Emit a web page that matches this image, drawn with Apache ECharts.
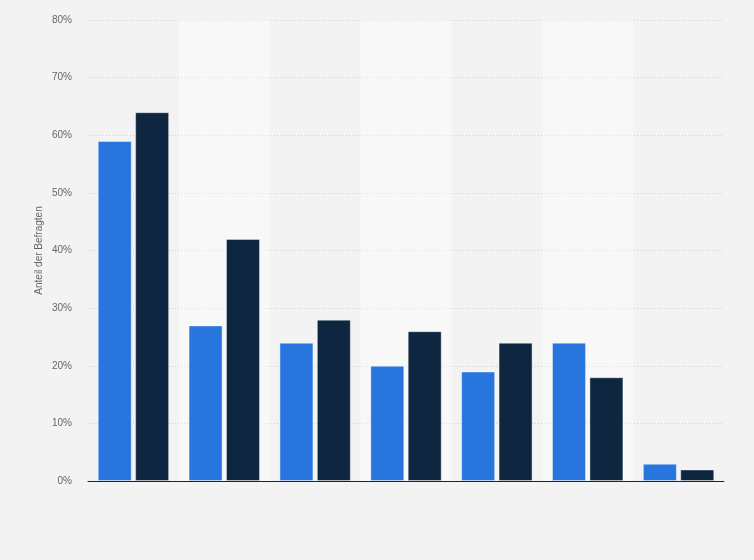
<!DOCTYPE html>
<html>
<head>
<meta charset="utf-8">
<script src="https://cdn.jsdelivr.net/npm/echarts@6/dist/echarts.min.js"></script>
<style>
  html, body { margin: 0; padding: 0; background: #f3f3f3; }
  #chart { width: 754px; height: 560px; }
</style>
</head>
<body>
<div id="chart"></div>
<script>
// 7 answer groups, labels not shown in the source picture
const categories = ["1", "2", "3", "4", "5", "6", "7"];
const seriesA = [59, 27, 24, 20, 19, 24, 3];
const seriesB = [64, 42, 28, 26, 24, 18, 2];
const yTicks = { min: 0, max: 80, interval: 10 };

const chart = echarts.init(document.getElementById("chart"));

const barStyle = (color) => ({
  color: color,
  borderColor: "rgba(255,255,255,0.4)",
  borderWidth: 1,
});

chart.setOption({
  backgroundColor: "#f3f3f3",
  animation: false,
  grid: { left: 88, right: 30, top: 20, bottom: 79 },
  xAxis: {
    type: "category",
    data: categories,
    axisLine: { lineStyle: { color: "#222", width: 1 } },
    axisTick: { show: false },
    axisLabel: { show: false },
    splitArea: {
      show: true,
      areaStyle: { color: ["rgba(255,255,255,0)", "rgba(255,255,255,0.4)"] },
    },
  },
  yAxis: {
    type: "value",
    min: yTicks.min,
    max: yTicks.max,
    interval: yTicks.interval,
    name: "Anteil der Befragten",
    nameLocation: "middle",
    nameGap: 44,
    nameMoveOverlap: false,
    nameTextStyle: { color: "#666", fontSize: 10, fontFamily: "Arial, Liberation Sans, sans-serif" },
    axisLine: { show: false },
    axisTick: { show: false },
    axisLabel: {
      formatter: "{value}%",
      color: "#666",
      fontSize: 10,
      margin: 16,
      fontFamily: "Arial, Liberation Sans, sans-serif",
    },
    splitLine: { lineStyle: { color: "#cfcfcf", type: [1, 2], width: 1 } },
  },
  series: [
    {
      type: "bar",
      data: seriesA,
      barWidth: 34,
      barGap: "10%",
      itemStyle: barStyle("#2876dd"),
    },
    {
      type: "bar",
      data: seriesB,
      barWidth: 34,
      itemStyle: barStyle("#0f2641"),
    },
  ],
});

window.addEventListener("resize", () => chart.resize());
</script>
</body>
</html>
